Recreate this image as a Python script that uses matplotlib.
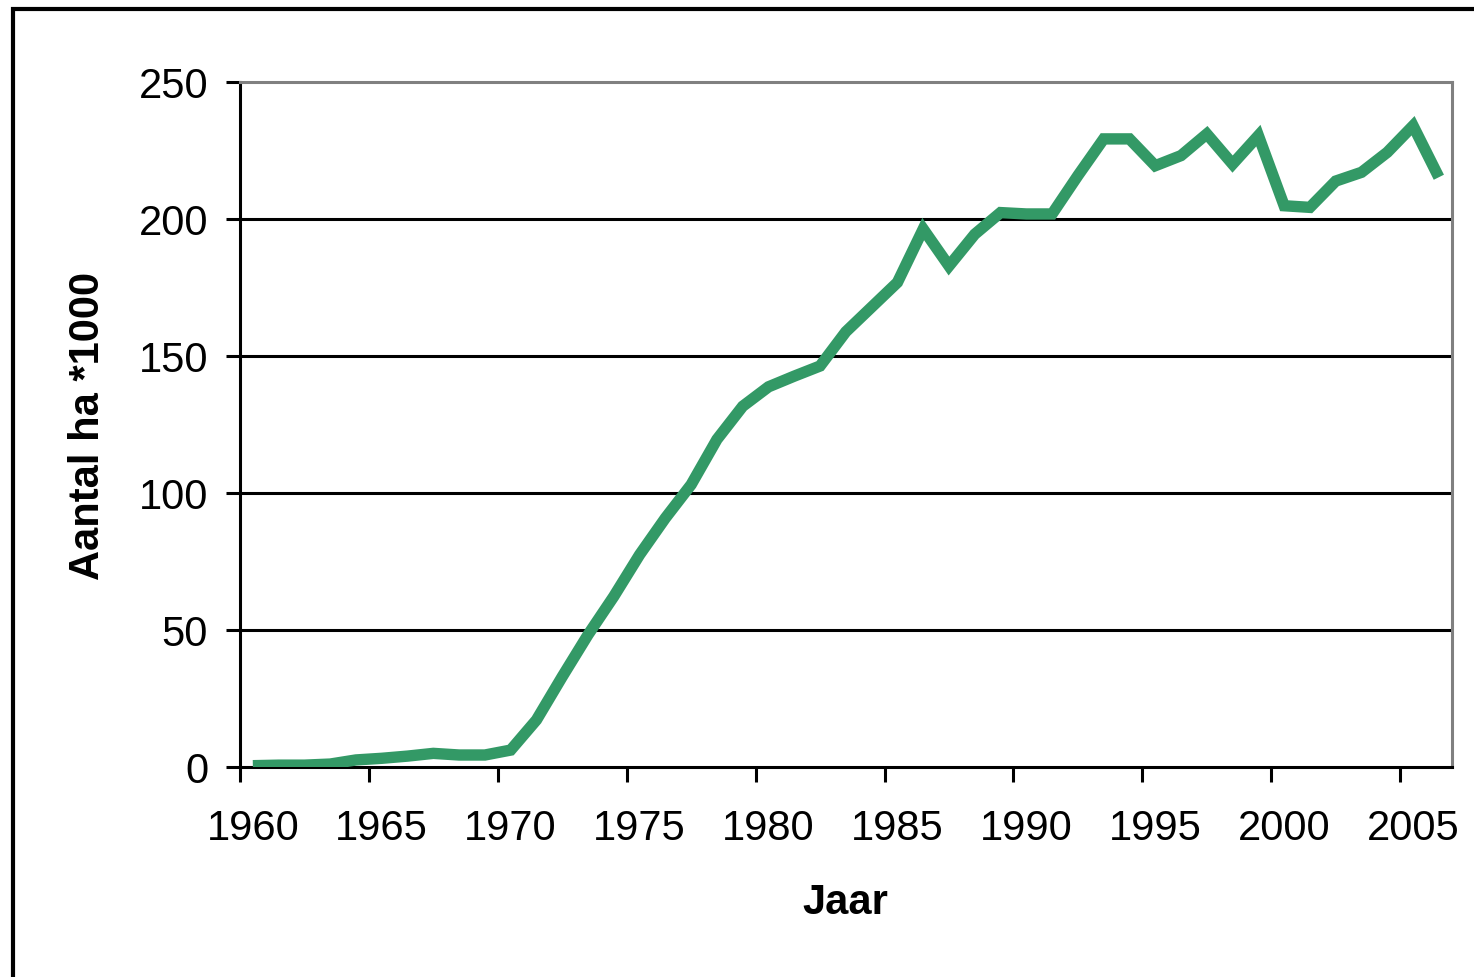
import matplotlib
matplotlib.use("Agg")
import matplotlib.pyplot as plt
from matplotlib.patches import Rectangle

years = list(range(1960, 2007))
area = [0.6, 0.8, 0.8, 1.2, 2.7, 3.3, 4.1, 5.1, 4.5, 4.5,
        6.3, 17.3, 33.1, 48.4, 62.4, 77.6, 91.0, 103.2, 119.7, 131.8,
        138.9, 142.8, 146.5, 159.0, 168.0, 177.0, 196.5, 183.0, 194.6, 202.5,
        202.0, 202.0, 216.0, 229.4, 229.4, 219.6, 223.3, 231.2, 220.2, 230.6,
        205.0, 204.4, 214.0, 217.2, 224.5, 234.2, 215.4]
label_years = list(range(1960, 2006, 5))
y_ticks = [0, 50, 100, 150, 200, 250]

plt.rcParams['font.family'] = ['Liberation Sans', 'DejaVu Sans']

fig = plt.figure(figsize=(14.74, 9.77), dpi=100)
ax = fig.add_axes([0.1628, 0.2146, 0.8221, 0.7010])

ax.plot(years, area, color='#339966', lw=8.2, solid_joinstyle='miter',
        solid_capstyle='butt', zorder=3)

ax.set_xlim(1959.5, 2006.5)
ax.set_ylim(0, 250)

# category boundaries get the tick marks, labels sit on the category centres
ax.set_xticks([y - 0.5 for y in label_years])
ax.set_xticklabels([])
ax.set_xticks(label_years, minor=True)
ax.set_xticklabels([str(y) for y in label_years], minor=True, fontsize=30)
ax.tick_params(axis='x', which='major', direction='out', length=11, width=2.2, color='black')
ax.tick_params(axis='x', which='minor', length=0, pad=30)

ax.set_yticks(y_ticks)
ax.set_yticklabels([str(v) for v in y_ticks], fontsize=30)
ax.tick_params(axis='y', direction='out', length=10, width=2.2, pad=13)

for v in y_ticks[1:-1]:
    ax.axhline(v, color='black', lw=2.2, zorder=1)

for side in ['left', 'bottom']:
    ax.spines[side].set_color('black')
    ax.spines[side].set_linewidth(2.2)
for side in ['top', 'right']:
    ax.spines[side].set_color('#808080')
    ax.spines[side].set_linewidth(2.2)

fig.text(845 / 1474, 1 - 903 / 977, 'Jaar', fontsize=30, fontweight='bold',
         ha='center', va='center')
fig.text(88 / 1474, 1 - 426 / 977, 'Aantal ha *1000', fontsize=30, fontweight='bold',
         rotation=90, ha='center', va='center')

# outer chart frame, only the left and top edges are inside the picture
fig.patches.append(Rectangle((13 / 1474, -0.5), 1.5, 1.5 - 8.5 / 977,
                             transform=fig.transFigure, fill=False,
                             edgecolor='black', lw=3))

fig.savefig('out.png', dpi=100)
